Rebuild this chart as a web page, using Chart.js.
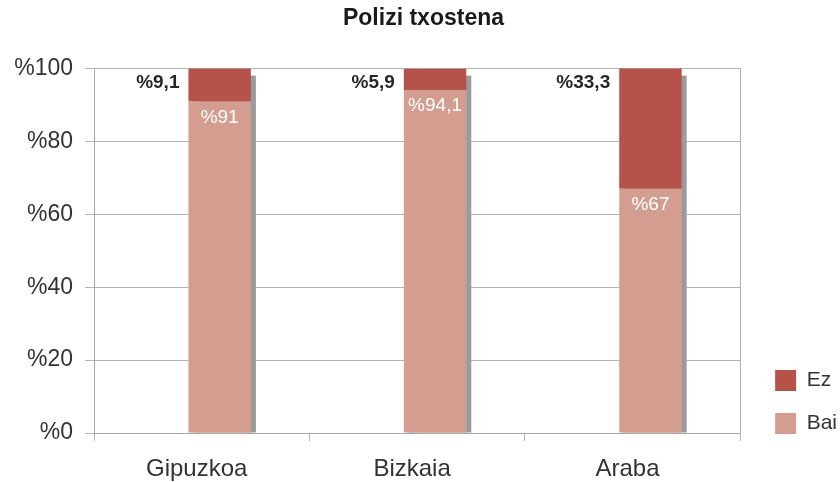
<!DOCTYPE html>
<html><head><meta charset="utf-8">
<script src="https://cdn.jsdelivr.net/npm/chart.js@4/dist/chart.umd.min.js"></script>
<style>html,body{margin:0;padding:0;background:#fff}#wrap{width:840px;height:482px}</style>
</head><body><div id="wrap"><canvas id="c" width="840" height="482"></canvas></div>
<script>
const chartTitle = 'Polizi txostena';
const categories = ['Gipuzkoa', 'Bizkaia', 'Araba'];
const seriesNames = ['Bai', 'Ez'];
const baiValues = [91, 94.1, 67];
const ezValues = [9.1, 5.9, 33.3];
const yTickLabels = ['%0', '%20', '%40', '%60', '%80', '%100'];

const FONT = "'Liberation Sans', Arial, Helvetica, sans-serif";
Chart.defaults.font.family = FONT;
const fmt = v => '%' + String(v).replace('.', ',');

const shadowPlugin = {
  id: 'barShadow',
  beforeDatasetsDraw(chart) {
    const {ctx, chartArea} = chart;
    const baiMeta = chart.getDatasetMeta(1), ezMeta = chart.getDatasetMeta(2);
    ctx.save();
    ctx.beginPath();
    ctx.rect(chartArea.left, chartArea.top, chartArea.width, chartArea.height);
    ctx.clip();
    ctx.fillStyle = '#9b9b9e';
    baiMeta.data.forEach((bar, i) => {
      const ez = ezMeta.data[i];
      const top = Math.max(ez.y, chartArea.top) + 7;
      const w = bar.width;
      ctx.fillRect(bar.x - w / 2 + 5, top, w, bar.base - top);
    });
    ctx.restore();
  }
};

const labelPlugin = {
  id: 'valueLabels',
  afterDatasetsDraw(chart) {
    const {ctx, chartArea} = chart;
    const baiMeta = chart.getDatasetMeta(1), ezMeta = chart.getDatasetMeta(2);
    ctx.save();
    ctx.textBaseline = 'middle';
    ezMeta.data.forEach((bar, i) => {
      const top = Math.max(bar.y, chartArea.top);
      ctx.font = 'bold 19px ' + FONT;
      ctx.fillStyle = '#262626';
      ctx.textAlign = 'right';
      ctx.fillText(fmt(ezValues[i]), bar.x - bar.width / 2 - 9, top + 14);
    });
    baiMeta.data.forEach((bar, i) => {
      ctx.font = '19px ' + FONT;
      ctx.fillStyle = '#ffffff';
      ctx.textAlign = 'center';
      ctx.fillText(fmt(baiValues[i]), bar.x, bar.y + 16);
    });
    ctx.restore();
  }
};

// lift the legend block so that its last entry sits on the plot baseline
const legendLift = {
  id: 'legendLift',
  afterLayout(chart) {
    if (chart.legend) {
      chart.legend.top -= 26;
      chart.legend.bottom -= 26;
    }
  }
};

new Chart(document.getElementById('c'), {
  type: 'bar',
  data: {
    labels: categories,
    datasets: [
      { label: '', data: categories.map(() => null), stack: 'pad', backgroundColor: 'rgba(0,0,0,0)',
        categoryPercentage: 0.334, barPercentage: 1.736 },
      { label: seriesNames[0], data: baiValues, stack: 'main', backgroundColor: '#d39e90',
        categoryPercentage: 0.334, barPercentage: 1.736 },
      { label: seriesNames[1], data: ezValues, stack: 'main', backgroundColor: '#b5534b',
        categoryPercentage: 0.334, barPercentage: 1.736 }
    ]
  },
  options: {
    responsive: false,
    animation: false,
    layout: { padding: { left: 0, right: -7, top: 0, bottom: 0 } },
    plugins: {
      title: {
        display: true, text: chartTitle, color: '#1a1a1a',
        font: { size: 23, weight: 'bold', family: FONT },
        padding: { top: 5, bottom: 36 }
      },
      legend: {
        position: 'right', align: 'end', reverse: true,
        labels: {
          boxWidth: 21, boxHeight: 21, padding: 22, color: '#333',
          font: { size: 21, family: FONT },
          filter: item => item.text !== ''
        }
      },
      tooltip: { enabled: false }
    },
    scales: {
      x: {
        stacked: true,
        grid: { offset: true, drawOnChartArea: false, tickLength: 8, color: '#b3b3b3' },
        border: { color: '#a6a6a6' },
        ticks: { font: { size: 24 }, color: '#333', padding: 14, labelOffset: -5,
                 maxRotation: 0, minRotation: 0, autoSkip: false },
        afterFit: s => { s.height = 49; }
      },
      y: {
        stacked: true, min: 0, max: 100,
        ticks: { stepSize: 20, font: { size: 23 }, color: '#333', padding: 12,
                 callback: v => yTickLabels[Math.round(v / 20)] },
        grid: { color: '#b3b3b3', tickLength: 9 },
        border: { color: '#a6a6a6' },
        afterFit: s => { s.width = 94; }
      },
      y2: {
        position: 'right', display: true,
        ticks: { display: false },
        grid: { drawOnChartArea: false, drawTicks: false },
        border: { display: true, color: '#b3b3b3' },
        afterFit: s => { s.width = 13; }
      }
    }
  },
  plugins: [shadowPlugin, labelPlugin, legendLift]
});
</script>
</body></html>
